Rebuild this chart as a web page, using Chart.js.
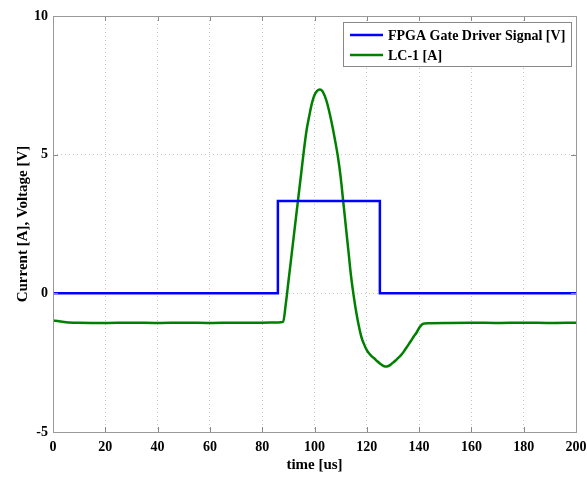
<!DOCTYPE html>
<html><head><meta charset="utf-8">
<script src="https://cdn.jsdelivr.net/npm/chart.js@4.4.1/dist/chart.umd.min.js"></script>
<style>html,body{margin:0;padding:0;background:#fff}#c{display:block}</style>
</head><body>
<canvas id="c" width="587" height="481"></canvas>
<script>
const seriesLabels = ["FPGA Gate Driver Signal [V]", "LC-1 [A]"];
const xTicks = [0,20,40,60,80,100,120,140,160,180,200];
const yTicks = [-5,0,5,10];
const gateTime = [0,86,86,125,125,200];
const gateVolt = [0,0,3.33,3.33,0,0];
const lcTime = [0,5,10,20,30,40,50,60,70,80,86,88,89,90,91,92,93,94,95,96,97,98,99,100,101,102,103,104,105,106,107,108,109,110,111,112,113,114,115,116,117,118,119,120,121,122,123,124,125,126,127,128,129,130,131,132,133,134,135,136,137,138,139,140,141,142,144,150,160,170,180,190,200];
const lcCurr = [-0.98,-1.04,-1.06,-1.07,-1.06,-1.07,-1.06,-1.07,-1.06,-1.06,-1.05,-1.03,-0.4,0.4,1.2,2.0,2.8,3.6,4.4,5.2,5.9,6.4,6.85,7.15,7.3,7.35,7.3,7.1,6.8,6.4,5.95,5.45,4.9,4.2,3.3,2.4,1.5,0.6,-0.1,-0.7,-1.2,-1.6,-1.85,-2.05,-2.18,-2.28,-2.36,-2.45,-2.53,-2.6,-2.64,-2.63,-2.58,-2.5,-2.42,-2.33,-2.24,-2.12,-1.98,-1.84,-1.7,-1.55,-1.42,-1.25,-1.13,-1.09,-1.08,-1.07,-1.06,-1.07,-1.06,-1.07,-1.06];

const FONT = "'Liberation Serif','Times New Roman',serif";
const frame = {
  id:'frame',
  afterDraw(chart){
    const {ctx, chartArea:a, scales} = chart;
    ctx.save();
    ctx.strokeStyle = '#888'; ctx.lineWidth = 1;
    ctx.beginPath();
    xTicks.forEach(v=>{const p=Math.round(scales.x.getPixelForValue(v))+0.5;
      ctx.moveTo(p,a.bottom);ctx.lineTo(p,a.bottom-5);ctx.moveTo(p,a.top);ctx.lineTo(p,a.top+5);});
    yTicks.forEach(v=>{const p=Math.round(scales.y.getPixelForValue(v))+0.5;
      ctx.moveTo(a.left,p);ctx.lineTo(a.left+5,p);ctx.moveTo(a.right,p);ctx.lineTo(a.right-5,p);});
    ctx.stroke();
    ctx.strokeStyle = '#999';
    ctx.strokeRect(Math.round(a.left)+0.5, Math.round(a.top)+0.5, Math.round(a.right-a.left), Math.round(a.bottom-a.top));
    const bx=343, by=22, bw=228, bh=44;
    ctx.fillStyle='#fff'; ctx.fillRect(bx,by,bw,bh);
    ctx.strokeStyle='#888'; ctx.strokeRect(bx+0.5,by+0.5,bw,bh);
    ctx.font = "bold 14px "+FONT; ctx.textBaseline='middle'; ctx.textAlign='left';
    chart.data.datasets.forEach((ds,i)=>{
      const yy = by+13+i*20;
      ctx.strokeStyle=ds.borderColor; ctx.lineWidth=2.5;
      ctx.beginPath(); ctx.moveTo(bx+7,yy); ctx.lineTo(bx+40,yy); ctx.stroke();
      ctx.fillStyle='#000'; ctx.fillText(ds.label, bx+45, yy+1);
    });
    ctx.restore();
  }
};

new Chart(document.getElementById('c'), {
  type:'line',
  data:{datasets:[
    {label:seriesLabels[0], data:gateTime.map((t,i)=>({x:t,y:gateVolt[i]})), borderColor:'#0000ff', borderWidth:2.5, pointRadius:0, tension:0},
    {label:seriesLabels[1], data:lcTime.map((t,i)=>({x:t,y:lcCurr[i]})), borderColor:'#008000', borderWidth:2.5, pointRadius:0, cubicInterpolationMode:'monotone'}
  ]},
  options:{
    responsive:false, animation:false,
    layout:{padding:{left:0,right:0,top:16,bottom:0}},
    plugins:{legend:{display:false}, tooltip:{enabled:false}},
    scales:{
      x:{type:'linear', min:0, max:200,
        afterBuildTicks(s){s.ticks = xTicks.map(v=>({value:v}));},
        afterFit(s){s.height=49; s.paddingRight=11; s.paddingLeft=0;},
        grid:{color:'#c4c4c4', drawTicks:false},
        border:{display:false, dash:[1,3]},
        ticks:{color:'#000', font:{family:FONT, size:14, weight:'bold'}, padding:7, maxRotation:0},
        title:{display:true, text:'time [us]', color:'#000', font:{family:FONT, size:15, weight:'bold'}, padding:{top:2,bottom:7}}
      },
      y:{type:'linear', min:-5, max:10,
        afterBuildTicks(s){s.ticks = yTicks.map(v=>({value:v}));},
        afterFit(s){s.width=53; s.paddingTop=0; s.paddingBottom=0;},
        grid:{color:'#c4c4c4', drawTicks:false},
        border:{display:false, dash:[1,3]},
        ticks:{color:'#000', font:{family:FONT, size:14, weight:'bold'}, padding:5},
        title:{display:true, text:'Current [A], Voltage [V]', color:'#000', font:{family:FONT, size:15, weight:'bold'}, padding:{top:14,bottom:2}}
      }
    }
  },
  plugins:[frame]
});
</script>
</body></html>
